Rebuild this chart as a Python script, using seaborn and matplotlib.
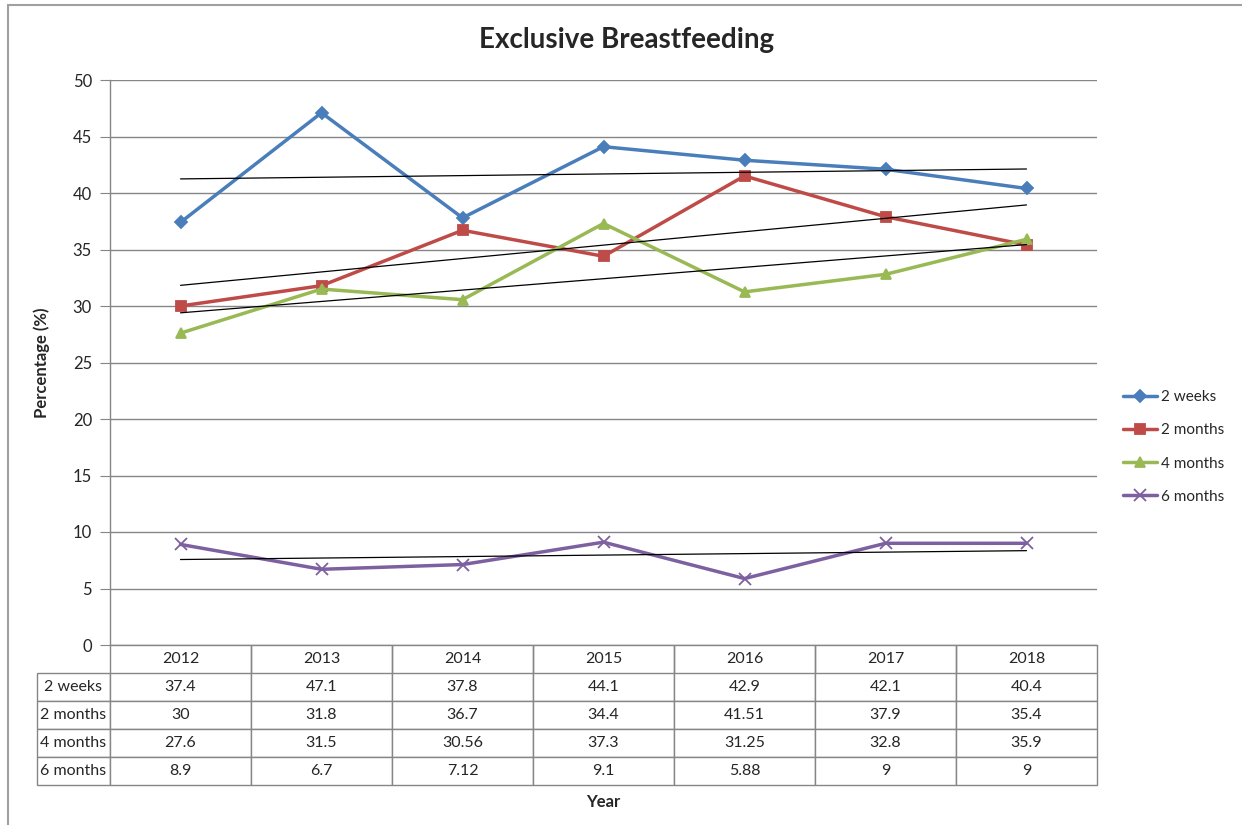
import matplotlib
matplotlib.use("Agg")
import matplotlib.pyplot as plt
import seaborn as sns
import numpy as np
import pandas as pd

years = ["2012", "2013", "2014", "2015", "2016", "2017", "2018"]
series_names = ["2 weeks", "2 months", "4 months", "6 months"]
two_weeks = [37.4, 47.1, 37.8, 44.1, 42.9, 42.1, 40.4]
two_months = [30, 31.8, 36.7, 34.4, 41.51, 37.9, 35.4]
four_months = [27.6, 31.5, 30.56, 37.3, 31.25, 32.8, 35.9]
six_months = [8.9, 6.7, 7.12, 9.1, 5.88, 9, 9]

colors = ["#4A7EBB", "#BE4B48", "#98B954", "#7D60A0"]
markers = ["D", "s", "^", "x"]
msizes = [6, 6.5, 7.5, 8]

sns.set_style("white")
plt.rcParams["font.family"] = ["Lato", "DejaVu Sans"]

GRAY = "#868686"
W, H = 1242, 825
fig = plt.figure(figsize=(W / 100, H / 100), dpi=100)
ax = fig.add_axes([110 / W, 1 - 645 / H, 987 / W, 565 / H])

xpos = np.arange(len(years))
all_series = [two_weeks, two_months, four_months, six_months]
for name, vals, c, m, ms in zip(series_names, all_series, colors, markers, msizes):
    sns.lineplot(x=xpos, y=vals, ax=ax, color=c, marker=m, markersize=ms,
                 markeredgecolor=c, markeredgewidth=1.3, linewidth=2.5,
                 label=name, zorder=3)
# linear trendlines
for vals in all_series:
    sns.regplot(x=xpos, y=np.array(vals, dtype=float), ax=ax, scatter=False,
                ci=None, color="black", line_kws={"linewidth": 0.9, "zorder": 4})

ax.set_xlim(-0.5, len(years) - 0.5)
ax.set_ylim(0, 50)
ax.set_yticks(range(0, 51, 5))
ax.set_xticks([])
ax.tick_params(axis="y", length=7, color=GRAY, labelsize=12, pad=6, left=True)
ax.yaxis.grid(True, color=GRAY, linewidth=1)
ax.set_axisbelow(True)
for s in ["top", "right"]:
    ax.spines[s].set_visible(False)
for s in ["left", "bottom"]:
    ax.spines[s].set_color(GRAY)
    ax.spines[s].set_linewidth(1)
ax.set_xlabel("")
ax.set_ylabel("Percentage (%)", fontsize=12, fontweight="bold")
ax.yaxis.set_label_coords(-60 / 987, 0.5)

h, l = ax.get_legend_handles_labels()
ax.get_legend().remove()
fig.legend(h[:4], l[:4], loc="center left", bbox_to_anchor=(1120 / W, 1 - 447 / H),
           frameon=False, fontsize=11, handlelength=2.2, labelspacing=1.25,
           handletextpad=0.3, borderaxespad=0, borderpad=0.2)

# data table under the axis
cell_text = [[name] + [f"{v:g}" for v in vals] for name, vals in zip(series_names, all_series)]
tbl = ax.table(cellText=cell_text, colLabels=[""] + years, cellLoc="center",
               colWidths=[73] + [141] * len(years),
               bbox=[-73 / 987, -140 / 565, 1060 / 987, 140 / 565])
tbl.auto_set_font_size(False)
tbl.set_fontsize(11.5)
for (r, c), cell in tbl.get_celld().items():
    cell.set_edgecolor(GRAY)
    cell.set_linewidth(1)
    if c == 0:
        cell._loc = "left"
        cell.PAD = 0.015
    if r == 0 and c == 0:
        cell.set_edgecolor("none")
    if r == 0 and c > 0:
        cell.visible_edges = "LR"

fig.text(603 / W, 1 - 802 / H, "Year", ha="center", va="center",
         fontsize=12, fontweight="bold")
fig.text(627 / W, 1 - 40 / H, "Exclusive Breastfeeding", ha="center", va="center",
         fontsize=20, fontweight="bold")

border = plt.Rectangle((8 / W, -0.1), 1.2, 1 - 5 / H + 0.1, transform=fig.transFigure,
                       fill=False, edgecolor="#A0A0A0", linewidth=1.5, clip_on=False)
fig.patches.append(border)

fig.savefig("out.png", dpi=100)
